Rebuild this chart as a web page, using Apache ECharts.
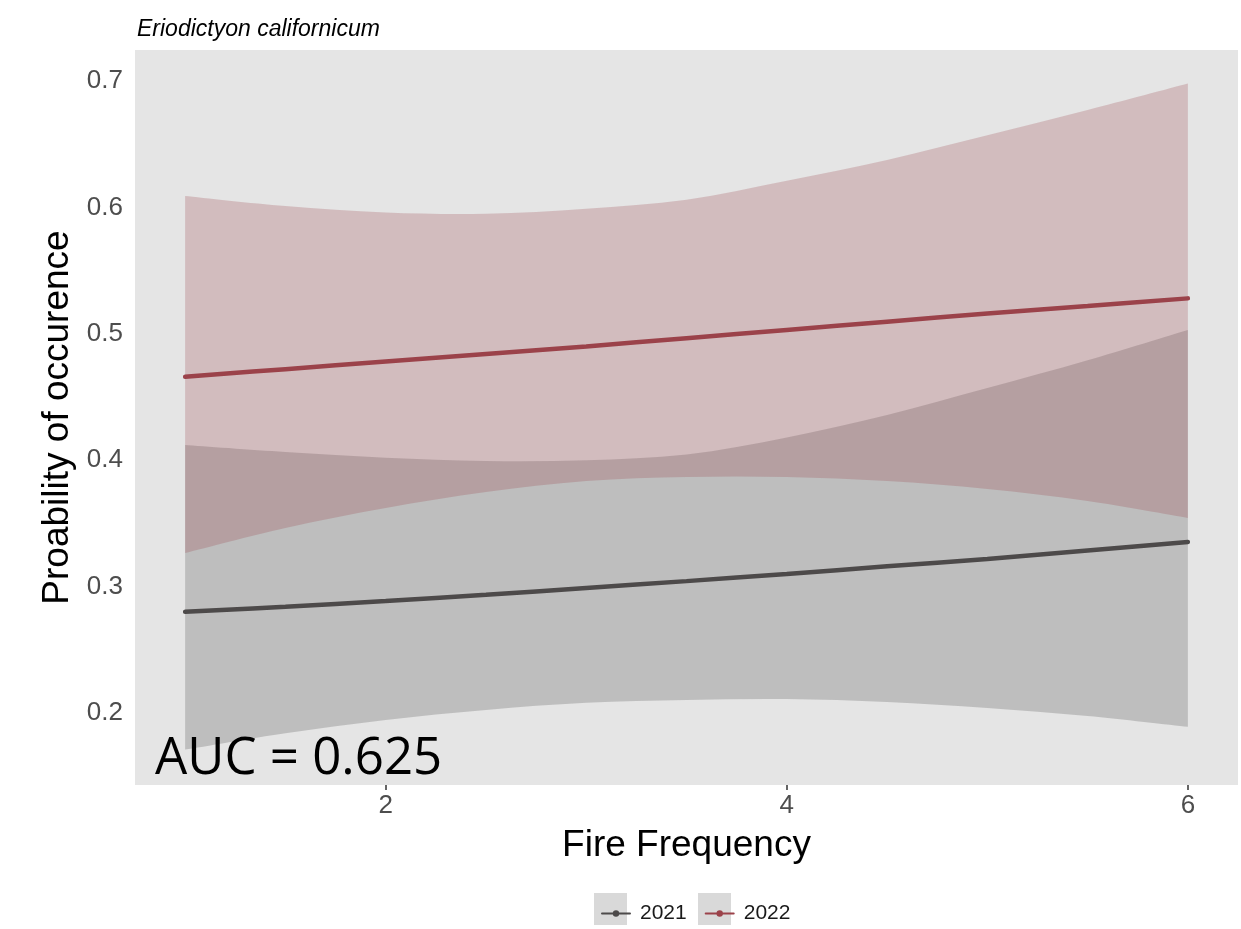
<!DOCTYPE html>
<html>
<head>
<meta charset="utf-8">
<script src="https://cdn.jsdelivr.net/npm/echarts@6/dist/echarts.min.js"></script>
<style>
html,body{margin:0;padding:0;background:#fff;}
#chart{width:1241px;height:929px;}
</style>
</head>
<body>
<div id="chart"></div>
<script>
// Data
const fireFreq  = [1, 1.5, 2, 2.5, 3, 3.5, 4, 4.5, 5, 5.5, 6];
const fit2021   = [0.280, 0.284, 0.2886, 0.2935, 0.2989, 0.3043, 0.310, 0.316, 0.3218, 0.3285, 0.3353];
const lower2021 = [0.171, 0.184, 0.1945, 0.2024, 0.208, 0.2103, 0.211, 0.2087, 0.204, 0.1976, 0.189];
const upper2021 = [0.412, 0.4065, 0.402, 0.3994, 0.400, 0.4045, 0.418, 0.4358, 0.457, 0.479, 0.503];
const fit2022   = [0.466, 0.472, 0.478, 0.484, 0.490, 0.4965, 0.503, 0.5095, 0.516, 0.522, 0.528];
const lower2022 = [0.3266, 0.3464, 0.3622, 0.3748, 0.3835, 0.3867, 0.3867, 0.3835, 0.3772, 0.3677, 0.3543];
const upper2022 = [0.609, 0.601, 0.596, 0.595, 0.599, 0.606, 0.621, 0.6375, 0.657, 0.677, 0.698];
const xTicks = [2, 4, 6];
const yTicks = [0.2, 0.3, 0.4, 0.5, 0.6, 0.7];
const years = ['2021', '2022'];
const titleText = 'Eriodictyon californicum';
const aucText = 'AUC = 0.625';

const col2021 = '#4D4A4A';
const col2022 = '#9B424A';
const FONT = '"Liberation Sans", Arial, Helvetica, sans-serif';

const pairs = (ys) => fireFreq.map((x, i) => [x, ys[i]]);

// Catmull-Rom spline through pixel points -> bezier path segments
function splineSegs(p) {
  let d = '';
  for (let i = 0; i < p.length - 1; i++) {
    const p0 = p[Math.max(i - 1, 0)], p1 = p[i], p2 = p[i + 1], p3 = p[Math.min(i + 2, p.length - 1)];
    const c1x = p1[0] + (p2[0] - p0[0]) / 6, c1y = p1[1] + (p2[1] - p0[1]) / 6;
    const c2x = p2[0] - (p3[0] - p1[0]) / 6, c2y = p2[1] - (p3[1] - p1[1]) / 6;
    d += ' C' + c1x + ' ' + c1y + ' ' + c2x + ' ' + c2y + ' ' + p2[0] + ' ' + p2[1];
  }
  return d;
}

function ribbon(name, lo, hi, color) {
  return {
    name: name, type: 'custom', silent: true, z: 1,
    data: [[fireFreq[0], lo[0]]],
    renderItem: function (params, api) {
      const up = fireFreq.map((x, i) => api.coord([x, hi[i]]));
      const dn = fireFreq.map((x, i) => api.coord([x, lo[i]])).reverse();
      const d = 'M' + up[0][0] + ' ' + up[0][1] + splineSegs(up) +
                ' L' + dn[0][0] + ' ' + dn[0][1] + splineSegs(dn) + ' Z';
      return { type: 'path', shape: { pathData: d, layout: 'cover' }, style: { fill: color, opacity: 0.25 } };
    }
  };
}

const chart = echarts.init(document.getElementById('chart'), null, { renderer: 'canvas' });
chart.setOption({
  animation: false,
  backgroundColor: '#ffffff',
  title: {
    text: titleText, left: 132, top: 13,
    textStyle: { fontFamily: FONT, fontStyle: 'italic', fontWeight: 'normal', fontSize: 23, color: '#000' }
  },
  grid: { left: 135, right: 3, top: 50, bottom: 144, show: true, backgroundColor: '#E5E5E5', borderWidth: 0 },
  xAxis: {
    type: 'value', min: 0.75, max: 6.25,
    name: 'Fire Frequency', nameLocation: 'middle', nameGap: 42,
    nameTextStyle: { fontFamily: FONT, fontSize: 37, color: '#000' },
    axisLine: { show: false },
    axisTick: { show: true, length: 5, lineStyle: { color: '#333', width: 1.5 }, customValues: xTicks },
    axisLabel: { fontFamily: FONT, fontSize: 26, color: '#4D4D4D', margin: 8, customValues: xTicks },
    splitLine: { show: false }
  },
  yAxis: {
    type: 'value', min: 0.143, max: 0.7245,
    name: 'Proability of occurence', nameLocation: 'middle', nameGap: 51, nameRotate: 90,
    nameTextStyle: { fontFamily: FONT, fontSize: 37, color: '#000' },
    axisLine: { show: false },
    axisTick: { show: false, customValues: yTicks },
    axisLabel: { fontFamily: FONT, fontSize: 26, color: '#4D4D4D', margin: 12, customValues: yTicks,
      formatter: (v) => v.toFixed(1) },
    splitLine: { show: false }
  },
  legend: {
    data: years, top: 898, left: 596, itemGap: 18,
    itemWidth: 28, itemHeight: 8,
    textStyle: { fontFamily: FONT, fontSize: 21, color: '#1A1A1A', padding: [0, 0, 0, 5] },
    z: 10
  },
  graphic: [
    { type: 'rect', shape: { x: 594, y: 893, width: 33, height: 32 }, style: { fill: '#D9D9D9' }, z: 0 },
    { type: 'rect', shape: { x: 698, y: 893, width: 33, height: 32 }, style: { fill: '#D9D9D9' }, z: 0 },
    { type: 'text', left: 155, top: 734, z: 20,
      style: { text: aucText, font: '51px "Open Sans", sans-serif', fill: '#000' } }
  ],
  series: [
    ribbon('r2021', lower2021, upper2021, col2021),
    ribbon('r2022', lower2022, upper2022, col2022),
    { name: '2021', type: 'line', data: pairs(fit2021), smooth: 0.4, symbol: 'circle', symbolSize: 6,
      showSymbol: false, itemStyle: { color: col2021 },
      lineStyle: { color: col2021, width: 4.5, cap: 'round' }, z: 3 },
    { name: '2022', type: 'line', data: pairs(fit2022), smooth: 0.4, symbol: 'circle', symbolSize: 6,
      showSymbol: false, itemStyle: { color: col2022 },
      lineStyle: { color: col2022, width: 4.5, cap: 'round' }, z: 3 }
  ]
});
</script>
</body>
</html>
